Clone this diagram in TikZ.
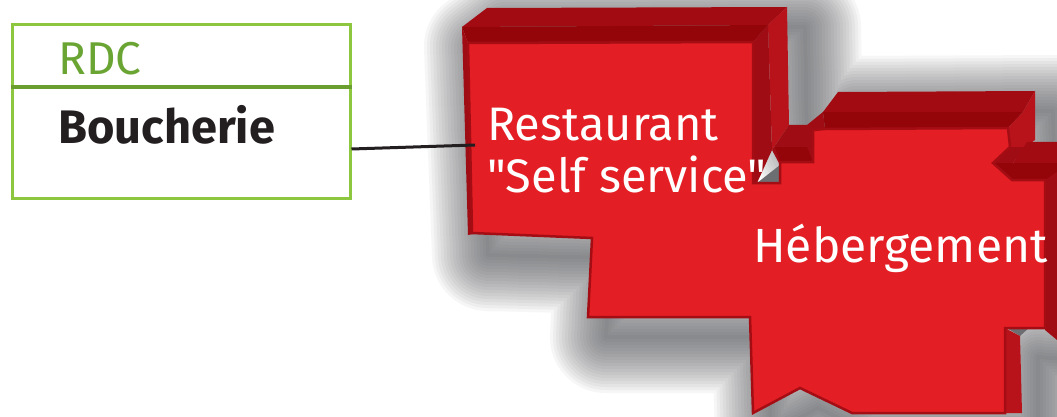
\documentclass[tikz,border=0pt]{standalone}
\usepackage{fontspec}
\setmainfont{Fira Sans}[Ligatures=TeXOff]
\definecolor{frontred}{HTML}{E31E24}
\definecolor{topred}{HTML}{A20B12}
\definecolor{bevelred}{HTML}{930509}
\definecolor{sidered}{HTML}{B8131B}
\definecolor{innerred}{HTML}{A00C13}
\definecolor{edgered}{HTML}{A50D14}
\definecolor{notchgray}{HTML}{6D6E71}
\definecolor{shadowgray}{HTML}{4F5053}
\definecolor{framegreen}{HTML}{8DC63F}
\definecolor{dividergreen}{HTML}{6A9F2F}
\definecolor{rdcgreen}{HTML}{6AA534}
\definecolor{inkblack}{HTML}{231F20}
\tikzset{
  redtext/.style={text=white, anchor=base west, inner sep=0pt, font=\fontsize{47}{50}\selectfont},
  boxtext/.style={anchor=base west, inner sep=0pt},
}
\def\silh{(462,27) -- (487,8) -- (787,7) -- (789,125) -- (823,112) -- (838,92) -- (1035,91) -- (1036,140) -- (1057,142) -- (1057,340) -- (1020,337) -- (1020,413) -- (1005,413) -- (852,413) -- (800,388) -- (753,413) -- (750,317) -- (588,317) -- (592,238) -- (470,235) -- cycle}
\begin{document}
\begin{tikzpicture}[x=1pt,y=-1pt]
\useasboundingbox (0,0) rectangle (1057,417);
\fill[white] (0,0) rectangle (1057,417);
\begin{scope}
\clip (0,0) rectangle (1057,417);
% soft shadow
\foreach \w in {4,10,...,112}{
  \path[shift={(18,20)}, draw=shadowgray, draw opacity=0.05, line width=\w, line join=round] \silh;
}
% shape 1 (Restaurant) back faces
\fill[topred] (462,27) -- (487,8) -- (787,7) -- (768,25) -- cycle;
\fill[sidered] (768,25) -- (787,7) -- (789,125) -- (772,150) -- cycle;
\fill[innerred] (753,42) -- (768,25) -- (772,150) -- (757,183) -- (753,183) -- cycle;
\fill[bevelred] (462,27) -- (768,25) -- (753,42) -- (468,43) -- cycle;
\fill[innerred] (462,27) -- (468,43) -- (473,234) -- (468,235) -- cycle;
\fill[notchgray] (757,183) -- (780,165) -- (780,183) -- cycle;
% connecting block
\fill[innerred] (772,150) -- (789,125) -- (807,125) -- (823,112) -- (825,129) -- (813,130) -- (813,162) -- (780,162) -- (780,165) -- cycle;
\fill[bevelred] (775,147) -- (807,147) -- (813,162) -- (780,162) -- cycle;
% shape 2 (Hebergement) back faces
\fill[topred] (823,112) -- (838,92) -- (1035,91) -- (1023,112) -- cycle;
\fill[bevelred] (823,112) -- (1023,112) -- (1008,128) -- (825,129) -- cycle;
\fill[sidered] (1008,128) -- (1023,112) -- (1035,91) -- (1035,140) -- (1025,147) -- (1010,147) -- cycle;
\fill[innerred] (1010,147) -- (1025,147) -- (1013,163) -- (993,163) -- cycle;
\fill[topred] (1013,163) -- (1027,142) -- (1057,142) -- (1057,163) -- cycle;
\fill[bevelred] (993,163) -- (1057,163) -- (1057,180) -- (1012,180) -- cycle;
\fill[innerred] (1045,180) -- (1057,172) -- (1057,340) -- (1045,330) -- cycle;
\fill[notchgray] (1005,327) -- (1030,327) -- (1020,336) -- cycle;
\fill[sidered] (1005,328) -- (1020,336) -- (1022,413) -- (1005,413) -- cycle;
% front face
\filldraw[fill=frontred, draw=edgered, line width=2.5, line join=miter]
  (468,43) -- (753,42) -- (753,183) -- (780,183) -- (780,162) -- (813,162) -- (813,130) -- (825,129) -- (1008,128) -- (1010,147) -- (993,163) -- (1012,180) -- (1045,180) -- (1045,328) -- (1005,328) -- (1005,413) -- (852,413) -- (800,388) -- (753,413) -- (750,317) -- (588,317) -- (592,238) -- (472,233) -- cycle;
\end{scope}
% labels on the red shape
\node[redtext] (rest) at (487,140) {Restaurant};
\node[redtext] (self) at (487,192) {"Self service"};
\node[redtext, font=\fontsize{48}{52}\selectfont] (heb) at (753,262) {Hébergement};
% green box
\node[draw=framegreen, line width=3, minimum width=338, minimum height=173, inner sep=0pt] (frame) at (181,111.5) {};
\draw[dividergreen, line width=3.5] (frame.west |- 0,87) -- (frame.east |- 0,87);
\node[boxtext, text=rdcgreen, font=\fontsize{46}{50}\selectfont] (rdc) at (58,75) {RDC};
\node[boxtext, text=inkblack, font=\fontsize{47}{50}\selectfont\bfseries] (bouch) at (58,143) {Boucherie};
% connector
\coordinate (c1) at (frame.east |- 0,149);
\coordinate (c2) at (475,145);
\draw[inkblack, line width=3] (c1) -- (c2);
\end{tikzpicture}
\end{document}
